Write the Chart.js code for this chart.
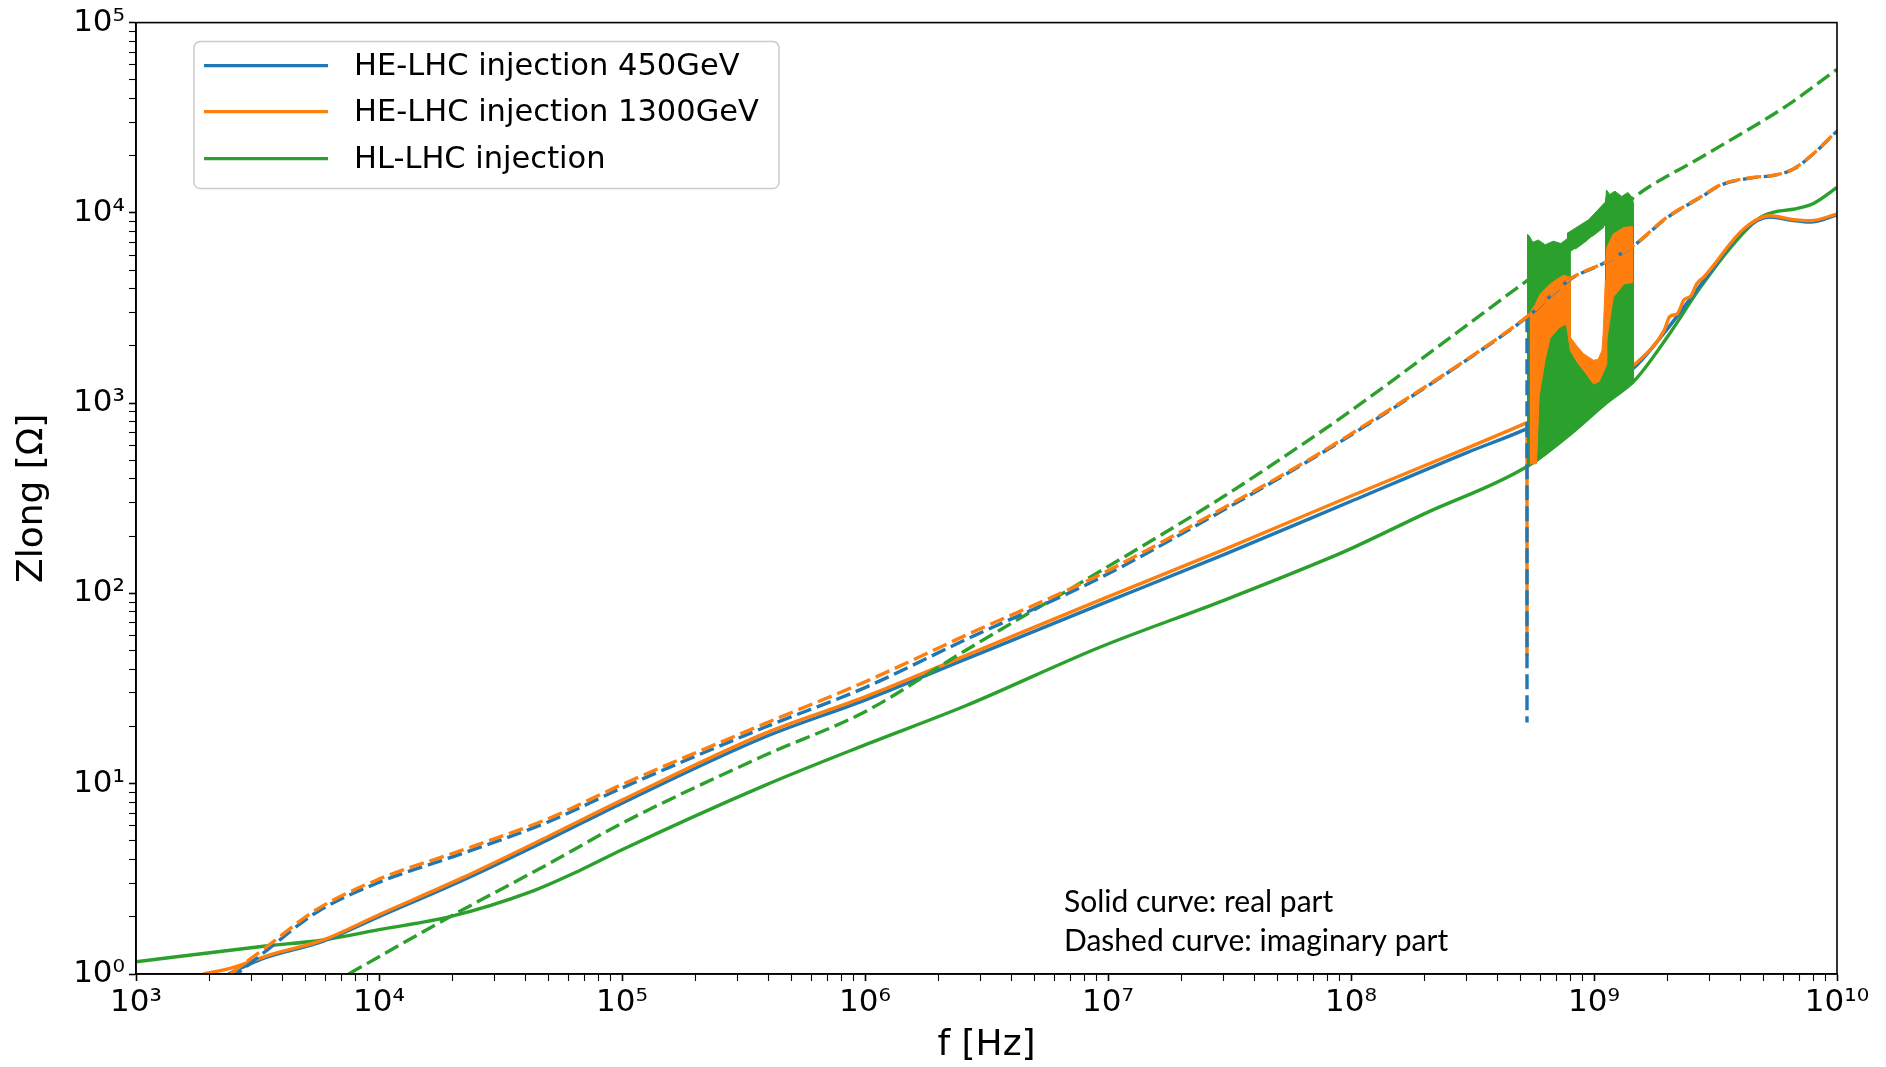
<!DOCTYPE html>
<html>
<head>
<meta charset="utf-8">
<script src="https://cdn.jsdelivr.net/npm/chart.js@4.4.0/dist/chart.umd.min.js"></script>
<style>
  html, body { margin: 0; padding: 0; background: #fff; }
  canvas { display: block; }
</style>
</head>
<body>
<canvas id="zlong" width="1886" height="1067"></canvas>
<script>
// [frequency Hz, |Z| Ohm]
const blueReal = [[2.4e3,1.0],[3.3e3,1.2],[5.9e3,1.49],[1e4,2.0],[2.2e4,3.1],[5e4,5.1],[1e5,7.9],[3.87e5,17.6],[1e6,27.5],[2.58e6,45],[9.2e6,87],[3e7,160],[1e8,305],[3e8,550],[5.3e8,735],[8e8,960],[1.1e9,1200],[1.48e9,1560],[1.94e9,2330],[2.83e9,4400],[4.13e9,8100],[5.3e9,9500],[6.5e9,9150],[7.76e9,8950],[1e10,9750]];
const blueImag = [[2.6e3,1.0],[3.45e3,1.33],[5.5e3,2.1],[9.8e3,3.0],[2.2e4,4.3],[4.9e4,6.25],[1e5,9.5],[3.87e5,19.8],[1e6,32],[2.58e6,57],[9.2e6,120],[3e7,275],[7e7,515],[1e8,680],[3e8,1690],[5.3e8,2830],[8e8,4480],[1.11e9,5480],[1.48e9,6840],[2e9,9450],[2.8e9,12250],[3.3e9,13950],[4.4e9,15250],[5.5e9,15750],[6.6e9,16950],[8e9,20450],[1e10,26900]];
const orangeReal = [[1.89e3,1.0],[2.44e3,1.07],[3.56e3,1.26],[5.9e3,1.51],[1e4,2.05],[2.2e4,3.2],[5e4,5.3],[1e5,8.2],[3.87e5,18.4],[1e6,28.6],[2.58e6,47],[9.2e6,92],[3e7,170],[1e8,325],[3e8,580],[5.3e8,790],[8e8,1000],[1.1e9,1250],[1.48e9,1610],[1.94e9,2400],[2.05e9,2850],[2.2e9,2950],[2.35e9,3500],[2.5e9,3650],[2.65e9,4250],[2.83e9,4600],[4.13e9,8230],[5.3e9,9660],[6.5e9,9250],[7.76e9,9100],[1e10,9860]];
const orangeImag = [[2.44e3,1.0],[3.45e3,1.39],[5.5e3,2.17],[9.8e3,3.12],[2.2e4,4.48],[4.9e4,6.5],[1e5,9.9],[3.87e5,20.7],[1e6,34.3],[2.58e6,60],[9.2e6,125],[3e7,282],[7e7,521],[1e8,690],[3e8,1700],[5.3e8,2850],[8e8,4500],[1.11e9,5500],[1.48e9,6860],[2e9,9500],[2.8e9,12300],[3.3e9,14000],[4.4e9,15300],[5.5e9,15800],[6.6e9,17000],[8e9,20500],[1e10,27000]];
const greenReal = [[1e3,1.16],[3.35e3,1.40],[5.9e3,1.51],[1e4,1.71],[1.96e4,2.0],[4.2e4,2.7],[6.7e4,3.5],[1e5,4.5],[3.87e5,9.8],[1e6,16],[2.58e6,25.6],[9.2e6,52],[3e7,92],[7.8e7,150],[1e8,172],[2e8,262],[5.3e8,465],[8e8,690],[1.11e9,992],[1.48e9,1330],[2e9,2220],[2.74e9,4060],[3.75e9,6860],[4.84e9,9460],[5.5e9,10100],[6.6e9,10450],[8e9,11200],[1e10,13600]];
const greenImag = [[7.5e3,1.0],[1.96e4,2.0],[5e4,3.8],[1e5,6.2],[3.87e5,14.1],[1e6,23.9],[2.58e6,50],[9.2e6,130],[3e7,324],[7e7,665],[1e8,912],[3e8,2570],[5.3e8,4400],[8e8,6300],[1.11e9,8700],[1.46e9,12060],[2.74e9,19500],[4.84e9,29900],[6.2e9,36500],[1e10,56800]];
// sharp drops at the first resonance
const orangeRealDrop = [[5.3e8,790],[5.3e8,47]];
const blueImagDrop = [[5.3e8,2830],[5.3e8,21]];

// resonance region 0.53-1.45 GHz: envelopes of the oscillating traces
const greenBandLow = [[5.3e8,461],[5.64e8,480],[5.91e8,500],[6.5e8,550],[7.15e8,610],[8e8,690],[9.5e8,828],[1.11e9,992],[1.3e9,1150],[1.455e9,1270]];
const greenBandHigh = [[5.3e8,7700],[5.4e8,7600],[5.6e8,7000],[5.9e8,7200],[6.3e8,6800],[6.8e8,7100],[7.3e8,6900],[7.74e8,7300],[7.99e8,6500],[8.0e8,1890],[8.5e8,1650],[9.06e8,1490],[9.96e8,1260],[1.05e9,1300],[1.1e9,1480],[1.118e9,1500],[1.12e9,12000],[1.125e9,13200],[1.16e9,12500],[1.22e9,13000],[1.3e9,12200],[1.38e9,12800],[1.44e9,12000],[1.455e9,11000]];
const greenStripLow = [[7.74e8,6100],[9.5e8,7300],[1.12e9,8700]];
const greenStripHigh = [[7.74e8,7800],[9.5e8,9200],[1.12e9,11500]];
const orangeBand1Low = [[5.45e8,480],[5.8e8,480],[5.95e8,1100],[6.3e8,1700],[6.6e8,2200],[7.2e8,2500],[7.7e8,2600],[7.99e8,1890]];
const orangeBand1High = [[5.45e8,3000],[5.73e8,3300],[6.01e8,3750],[6.2e8,3900],[6.61e8,4240],[7.0e8,4450],[7.5e8,4700],[7.99e8,4590]];
const orangeUOuter = [[7.99e8,1890],[8.5e8,1650],[9.06e8,1490],[9.96e8,1260],[1.05e9,1300],[1.1e9,1480],[1.13e9,1610]];
const orangeUInner = [[7.99e8,2220],[8.5e8,2000],[9.06e8,1820],[9.96e8,1680],[1.04e9,1700],[1.078e9,1890],[1.09e9,2300],[1.113e9,4410],[1.13e9,4410]];
const orangeBand2Low = [[1.12e9,2000],[1.2e9,3600],[1.33e9,4240],[1.44e9,4300]];
const orangeBand2High = [[1.12e9,5610],[1.13e9,6590],[1.2e9,7740],[1.33e9,8390],[1.44e9,8470]];

const xDecades = [3, 4, 5, 6, 7, 8, 9, 10];
const xTickLabels = ['10³', '10⁴', '10⁵', '10⁶', '10⁷', '10⁸', '10⁹', '10¹⁰'];
const yDecades = [0, 1, 2, 3, 4, 5];
const yTickLabels = ['10⁰', '10¹', '10²', '10³', '10⁴', '10⁵'];
const seriesLabels = ['HE-LHC injection 450GeV', 'HE-LHC injection 1300GeV', 'HL-LHC injection'];
const noteLines = ['Solid curve: real part', 'Dashed curve: imaginary part'];

const BLUE = '#1f77b4', ORANGE = '#ff7f0e', GREEN = '#2ca02c';
const DASH = [15, 6];
const LW = 3.4;

function pts(arr) {
    return arr.map(p => ({x: p[0], y: p[1]}));
}
function poly(low, high) {
    return pts(low.concat(high.slice().reverse()));
}
function curve(data, color, dashed, order, offset) {
    return {
        data: pts(data), borderColor: color, borderWidth: LW,
        borderDash: dashed ? DASH : [], borderDashOffset: offset || 0,
        pointRadius: 0, fill: false, cubicInterpolationMode: 'monotone', order: order
    };
}
function drop(data, color, dashed, order) {
    const d = curve(data, color, dashed, order);
    d.cubicInterpolationMode = 'default';
    d.tension = 0;
    return d;
}
function band(low, high, color, order) {
    return {
        data: poly(low, high), borderColor: color, backgroundColor: color,
        borderWidth: 1, pointRadius: 0, fill: 'shape', tension: 0, order: order
    };
}
function logTicks(decades) {
    const out = [];
    decades.forEach((e, i) => {
        out.push({value: Math.pow(10, e), major: true});
        if (i < decades.length - 1) {
            for (let m = 2; m <= 9; m++) out.push({value: m * Math.pow(10, e), major: false});
        }
    });
    return out;
}
function tickLabel(decades, labels) {
    return function(value) {
        const e = Math.round(Math.log10(value));
        if (Math.abs(value - Math.pow(10, e)) / value > 1e-6) return '';
        const i = decades.indexOf(e);
        return i < 0 ? '' : labels[i];
    };
}

// axes frame, legend box and the note text
const decor = {
    id: 'decor',
    afterDraw(chart) {
        const ctx = chart.ctx, a = chart.chartArea;
        ctx.save();
        ctx.strokeStyle = '#000';
        ctx.lineWidth = 1.6;
        ctx.strokeRect(a.left, a.top, a.right - a.left, a.bottom - a.top);

        const bx = a.left + 58, by = a.top + 19, bw = 585, bh = 147;
        ctx.beginPath();
        ctx.roundRect(bx, by, bw, bh, 6);
        ctx.fillStyle = 'rgba(255,255,255,0.8)';
        ctx.fill();
        ctx.strokeStyle = '#cccccc';
        ctx.lineWidth = 1.5;
        ctx.stroke();
        const colors = [BLUE, ORANGE, GREEN];
        const rows = [43, 89, 136];
        ctx.font = '30.5px "DejaVu Sans"';
        ctx.textBaseline = 'middle';
        seriesLabels.forEach((lab, i) => {
            const y = a.top + rows[i];
            ctx.strokeStyle = colors[i];
            ctx.lineWidth = LW;
            ctx.beginPath();
            ctx.moveTo(a.left + 68, y);
            ctx.lineTo(a.left + 192, y);
            ctx.stroke();
            ctx.fillStyle = '#000';
            ctx.fillText(lab, a.left + 218, y + 1);
        });

        ctx.font = '30px Lato';
        ctx.fillStyle = '#000';
        ctx.fillText(noteLines[0], a.left + 928, a.top + 880);
        ctx.fillText(noteLines[1], a.left + 928, a.top + 919);
        ctx.restore();
    }
};

const tickFont = {family: 'DejaVu Sans', size: 31};
const titleFont = {family: 'DejaVu Sans', size: 36};
const gridOpts = {
    drawOnChartArea: false, drawTicks: true, tickLength: 7, tickColor: '#000',
    tickWidth: c => (c.tick && c.tick.major) ? 1.6 : 1.1
};

new Chart(document.getElementById('zlong'), {
    type: 'line',
    data: {
        datasets: [
            curve(orangeImag, ORANGE, true, 1, 0),
            curve(blueImag, BLUE, true, 2, 9),
            drop(blueImagDrop, BLUE, true, 2),
            curve(greenImag, GREEN, true, 3, 0),
            band(orangeBand1Low, orangeBand1High, ORANGE, 4),
            band(orangeUOuter, orangeUInner, ORANGE, 4),
            band(orangeBand2Low, orangeBand2High, ORANGE, 4),
            band(greenBandLow, greenBandHigh, GREEN, 5),
            band(greenStripLow, greenStripHigh, GREEN, 5),
            drop(orangeRealDrop, ORANGE, false, 6),
            curve(orangeReal, ORANGE, false, 6),
            curve(blueReal, BLUE, false, 7),
            curve(greenReal, GREEN, false, 8)
        ]
    },
    options: {
        responsive: false,
        animation: false,
        devicePixelRatio: 1,
        layout: {padding: {left: 0, right: 49, top: 22, bottom: 0}},
        plugins: {legend: {display: false}, tooltip: {enabled: false}},
        scales: {
            x: {
                type: 'logarithmic', min: 1e3, max: 1e10,
                afterBuildTicks: s => { s.ticks = logTicks(xDecades); },
                afterFit: s => { s.height = 93; },
                ticks: {autoSkip: false, maxRotation: 0, minRotation: 0, padding: 3, color: '#000',
                        font: tickFont, callback: tickLabel(xDecades, xTickLabels)},
                grid: gridOpts,
                border: {display: true, color: '#000', width: 1.6},
                title: {display: true, text: 'f [Hz]', color: '#000', font: titleFont, padding: {top: 0, bottom: 0}}
            },
            y: {
                type: 'logarithmic', min: 1, max: 1e5,
                afterBuildTicks: s => { s.ticks = logTicks(yDecades); },
                afterFit: s => { s.width = 136; },
                ticks: {autoSkip: false, padding: 4, color: '#000',
                        font: tickFont, callback: tickLabel(yDecades, yTickLabels)},
                grid: gridOpts,
                border: {display: true, color: '#000', width: 1.6},
                title: {display: true, text: 'Zlong [Ω]', color: '#000', font: titleFont, padding: {top: 11, bottom: 0}}
            }
        }
    },
    plugins: [decor]
});
</script>
</body>
</html>
